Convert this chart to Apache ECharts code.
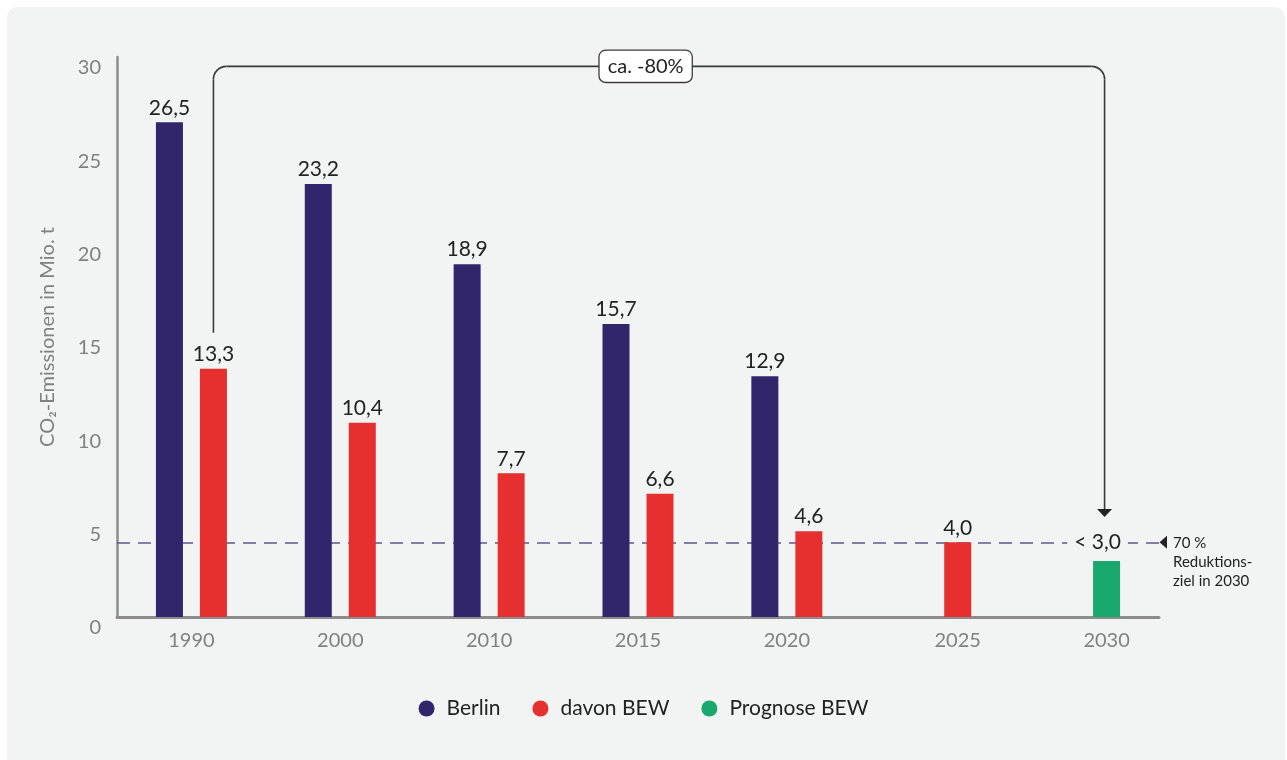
<!DOCTYPE html>
<html><head><meta charset="utf-8">
<script src="https://cdn.jsdelivr.net/npm/echarts@6/dist/echarts.min.js"></script>
<style>
html,body{margin:0;padding:0;background:#fff;width:1287px;height:760px;overflow:hidden;}
#card{position:absolute;left:7px;top:7px;width:1278px;height:770px;background:#f2f3f3;border-radius:10px;}
#c{position:absolute;left:0;top:0;width:1287px;height:760px;}
</style>
</head><body><div id="card"></div><div id="c"></div>
<script>
// ---- data ----
const categories = ['1990', '2000', '2010', '2015', '2020', '2025', '2030'];
const berlin = [26.5, 23.2, 18.9, 15.7, 12.9, null, null];
const davonBEW = [13.3, 10.4, 7.7, 6.6, 4.6, 4.0, null];
const prognoseBEW = [null, null, null, null, null, null, 3.0];
const yTicks = [0, 5, 10, 15, 20, 25, 30];
const targetValue = 4.0;
const reductionLabel = 'ca. -80%';
const targetLabel = '70 %\nReduktions-\nziel in 2030';
const yAxisTitle = 'CO\u2082-Emissionen in Mio. t';
const seriesNames = ['Berlin', 'davon BEW', 'Prognose BEW'];
const singleBarCats = ['2025', '2030'];

// ---- style ----
const FONT = 'Lato';
const BG = '#f2f3f3';
const C_BERLIN = '#31266b', C_RED = '#e5302f', C_GREEN = '#19a96f';
const BAR_W = 27, BAR_GAP = 0.63;
const SHIFT = BAR_W * (1 + BAR_GAP) / 2;
const fmt = v => v.toFixed(1).replace('.', ',');

const chart = echarts.init(document.getElementById('c'), null, {renderer: 'canvas'});
const labelBase = {show: true, position: 'top', distance: 4, fontFamily: FONT, fontSize: 21, color: '#222'};

chart.setOption({
  backgroundColor: 'transparent',
  animation: false,
  textStyle: {fontFamily: FONT},
  grid: {left: 117, right: 128, top: 57, bottom: 143, containLabel: false},
  legend: {
    data: seriesNames, top: 693, left: 'center', icon: 'circle',
    itemWidth: 16, itemHeight: 16, itemGap: 32,
    textStyle: {fontFamily: FONT, fontSize: 21, color: '#222', padding: [0, 0, 0, 7]}
  },
  xAxis: {
    type: 'category', data: categories,
    axisLine: {lineStyle: {color: '#8c8c8c', width: 3}},
    axisTick: {show: false},
    axisLabel: {
      margin: 14, fontFamily: FONT, fontSize: 20, color: '#808080',
      formatter: v => singleBarCats.includes(v) ? '{s|' + v + '}' : v,
      rich: {s: {fontFamily: FONT, fontSize: 20, color: '#808080', padding: [0, 0, 0, 2 * SHIFT]}}
    }
  },
  yAxis: {
    type: 'value', min: yTicks[0], max: yTicks[yTicks.length - 1], interval: yTicks[1] - yTicks[0],
    name: yAxisTitle, nameLocation: 'middle', nameGap: 59,
    nameTextStyle: {fontFamily: FONT, fontSize: 20, color: '#808080'},
    axisLine: {show: true, lineStyle: {color: '#8c8c8c', width: 2.5}},
    axisTick: {show: false},
    splitLine: {show: false},
    axisLabel: {margin: 16, fontFamily: FONT, fontSize: 20, color: '#808080', verticalAlign: 'top', padding: [1, 0, 0, 0]}
  },
  series: [
    {
      name: '__target', type: 'line', data: [], z: 1, silent: true,
      markLine: {
        z: 1, silent: true, symbol: ['none', 'none'], label: {show: false},
        lineStyle: {color: '#5d5a8e', type: [13, 8], width: 1.5},
        data: [{yAxis: targetValue}]
      }
    },
    {
      name: seriesNames[0], type: 'bar', data: berlin, z: 3,
      barWidth: BAR_W, barGap: (BAR_GAP * 100) + '%',
      itemStyle: {color: C_BERLIN},
      label: Object.assign({}, labelBase, {formatter: p => fmt(p.value)})
    },
    {
      name: seriesNames[1], type: 'bar', data: davonBEW, z: 3, stack: 'bew',
      barWidth: BAR_W,
      itemStyle: {color: C_RED},
      label: Object.assign({}, labelBase, {formatter: p => fmt(p.value)})
    },
    {
      name: seriesNames[2], type: 'bar', data: prognoseBEW, z: 3, stack: 'bew',
      barWidth: BAR_W,
      itemStyle: {color: C_GREEN},
      label: Object.assign({}, labelBase, {
        distance: 8, offset: [-9, 0], formatter: p => '< ' + fmt(p.value),
        backgroundColor: BG, padding: [0, 7]
      })
    }
  ]
});

// ---- annotations positioned from the chart's own scales ----
function px(cat, val) { return chart.convertToPixel({xAxisIndex: 0, yAxisIndex: 0}, [cat, val]); }
const firstIdx = davonBEW.findIndex(v => v != null);
const lastIdx = prognoseBEW.length - 1;
const pL = px(firstIdx, davonBEW[firstIdx]);
const pR = px(lastIdx, prognoseBEW[lastIdx]);
const lx = pL[0] + SHIFT, rx = pR[0] + SHIFT - 2;
const hy = px(0, 29.5)[1];
const ly = pL[1] - 36;
const tipY = pR[1] - 44;
const r = 13, ah = 8, aw = 7.5;
const tY = px(0, targetValue)[1];
const gridRight = 1287 - 128;
const lineSt = {stroke: '#3a3a3a', lineWidth: 1.6, fill: null};

chart.setOption({
  graphic: [
    {type: 'line', shape: {x1: lx, y1: ly, x2: lx, y2: hy + r}, style: lineSt, z: 10},
    {type: 'arc', shape: {cx: lx + r, cy: hy + r, r: r, startAngle: Math.PI, endAngle: Math.PI * 1.5, clockwise: true}, style: lineSt, z: 10},
    {type: 'line', shape: {x1: lx + r, y1: hy, x2: rx - r, y2: hy}, style: lineSt, z: 10},
    {type: 'arc', shape: {cx: rx - r, cy: hy + r, r: r, startAngle: Math.PI * 1.5, endAngle: Math.PI * 2, clockwise: true}, style: lineSt, z: 10},
    {type: 'line', shape: {x1: rx, y1: hy + r, x2: rx, y2: tipY - ah}, style: lineSt, z: 10},
    {type: 'polygon', shape: {points: [[rx - aw, tipY - ah], [rx + aw, tipY - ah], [rx, tipY]]}, style: {fill: '#222'}, z: 10},
    {type: 'text', x: lx + (rx - lx) * 0.485, y: hy, z: 11,
     style: {text: reductionLabel, fontFamily: FONT, fontSize: 20, fill: '#222', align: 'center', verticalAlign: 'middle',
             backgroundColor: '#ffffff', borderColor: '#3a3a3a', borderWidth: 1.3, borderRadius: 6, padding: [6, 8, 5, 8]}},
    {type: 'polygon', shape: {points: [[gridRight + 8, tY - 6.5], [gridRight + 8, tY + 6.5], [gridRight + 0.5, tY]]}, style: {fill: '#222'}, z: 10},
    {type: 'text', x: gridRight + 14, y: tY - 9, z: 10,
     style: {text: targetLabel, fontFamily: FONT, fontSize: 15, lineHeight: 19, fill: '#222', align: 'left', verticalAlign: 'top'}}
  ]
});
</script>
</body></html>
